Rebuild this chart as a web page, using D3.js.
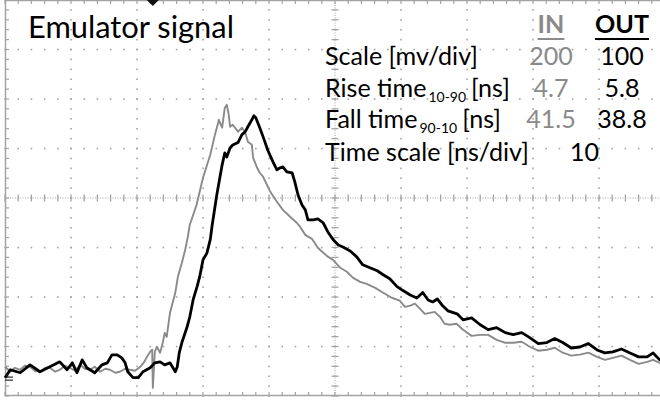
<!DOCTYPE html>
<html>
<head>
<meta charset="utf-8">
<script src="https://cdn.jsdelivr.net/npm/d3@7"></script>
<style>
  html, body { margin: 0; padding: 0; background: #fff; }
  svg { display: block; }
</style>
</head>
<body>
<script>
// scope settings
const timeScaleNsPerDiv = 10;
const channelNames = ["IN", "OUT"];
const scaleMvPerDiv = [200, 100];
const riseTimeNs = [4.7, 5.8];
const fallTimeNs = [41.5, 38.8];
const channelOffsetDiv = [-3.45, -3.45];
const triggerNs = 22.4;

// traces: [time ns, mV]
const inTrace = [
  [0.0, 8], [0.8, -12], [1.5, 4], [2.3, -4], [3.0, 12], [3.8, 8], [4.5, -8], [5.3, -12],
  [6.1, 4], [6.8, 4], [7.6, -12], [8.3, -4], [9.1, 12], [9.8, 4], [10.6, -8], [11.4, 16],
  [12.1, 0], [12.9, -4], [13.6, 8], [14.4, -12], [15.2, 0], [15.9, -4], [16.7, -16], [17.4, -12],
  [18.2, 0], [18.9, -4], [19.7, -8], [20.5, 8], [21.1, 28], [21.5, 48], [22.0, 69], [22.3, 77],
  [22.4, -77], [22.7, 69], [23.0, 89], [23.5, 65], [23.9, 105], [24.2, 145], [24.5, 129], [25.0, 226],
  [25.8, 307], [26.2, 372], [26.8, 428], [27.3, 481], [27.7, 533], [28.0, 582], [29.0, 660], [30.0, 772],
  [31.1, 865], [31.8, 945], [32.3, 994], [32.4, 1006], [32.9, 974], [33.3, 1054], [33.6, 1067], [33.9, 1026],
  [34.1, 978], [34.5, 986], [35.3, 958], [35.9, 974], [36.4, 954], [36.8, 917], [37.4, 905], [37.6, 852],
  [38.2, 812], [38.6, 792], [39.1, 776], [40.2, 715], [41.2, 675], [42.1, 642], [43.2, 614], [44.2, 590],
  [44.7, 574], [45.5, 541], [46.5, 525], [47.4, 489], [48.8, 455], [49.7, 440], [50.8, 408], [51.8, 392],
  [52.7, 368], [53.8, 351], [54.8, 343], [56.1, 327], [57.3, 307], [58.6, 287], [59.8, 275], [60.6, 250],
  [61.4, 255], [62.1, 263], [62.9, 242], [63.6, 222], [64.4, 226], [65.1, 230], [65.9, 210], [66.6, 182],
  [67.4, 178], [68.4, 182], [69.4, 158], [70.7, 133], [72.0, 137], [73.2, 137], [74.5, 117], [75.8, 105],
  [77.0, 105], [78.3, 109], [79.5, 89], [80.8, 73], [82.1, 77], [83.3, 85], [84.5, 65], [85.8, 53],
  [87.1, 57], [88.4, 65], [89.7, 48], [90.9, 36], [92.1, 44], [93.4, 53], [94.7, 36], [96.0, 20],
  [97.3, 28], [98.2, 36], [99.2, 24], [100, 22]
];

const outTrace = [
  [0.0, -18], [0.8, -2], [2.3, -8], [3.8, 8], [5.3, -6], [6.8, 4], [8.3, 14], [9.4, -2],
  [10.2, 12], [10.9, -8], [11.7, 18], [12.4, 2], [13.6, -8], [14.7, 8], [15.5, 12], [16.2, 28],
  [17.0, 28], [17.7, 22], [18.2, 12], [18.6, -6], [19.4, -18], [20.2, -18], [20.9, -6], [22.0, 2],
  [22.7, 12], [23.5, 14], [24.2, 8], [25.0, 12], [25.8, -6], [26.1, 4], [26.4, 32], [26.8, 53],
  [27.6, 85], [28.0, 105], [28.5, 139], [29.1, 166], [29.5, 186], [30.0, 220], [30.6, 234], [31.1, 261],
  [31.4, 291], [32.1, 352], [32.9, 412], [33.3, 436], [33.6, 428], [34.1, 446], [34.5, 452], [35.3, 457],
  [35.9, 473], [36.4, 479], [36.8, 489], [37.4, 503], [37.7, 511], [38.0, 507], [38.6, 487], [39.1, 469],
  [39.8, 442], [40.6, 418], [41.2, 402], [41.7, 406], [42.1, 408], [42.7, 398], [43.5, 396], [43.9, 378],
  [44.4, 351], [45.0, 331], [45.5, 321], [45.9, 301], [46.7, 301], [47.4, 303], [48.2, 295], [48.9, 277],
  [49.7, 261], [50.5, 250], [51.2, 246], [52.3, 238], [53.3, 226], [54.2, 210], [55.3, 204], [56.4, 198],
  [57.3, 190], [58.3, 182], [59.4, 166], [60.3, 158], [61.4, 149], [62.4, 143], [63.3, 154], [64.1, 139],
  [64.8, 135], [65.5, 141], [66.2, 129], [67.1, 117], [68.5, 111], [69.4, 99], [70.7, 103], [72.0, 89],
  [73.2, 79], [74.5, 83], [75.8, 73], [77.0, 69], [78.3, 73], [79.5, 63], [80.8, 51], [82.1, 53],
  [83.3, 61], [84.5, 53], [85.8, 42], [87.1, 44], [88.4, 51], [89.7, 38], [90.9, 32], [92.1, 34],
  [93.4, 40], [94.7, 32], [96.0, 24], [97.3, 24], [98.2, 32], [99.2, 18], [100, 20]
];

// table text: [label, subscript, unit]
const tableTitle = "Emulator signal";
const rowLabels = [
  ["Scale [mv/div]", "", ""],
  ["Rise time", "10-90", "[ns]"],
  ["Fall time", "90-10", "[ns]"],
  ["Time scale [ns/div]", "", ""]
];

const W = 660, H = 400;
const inColor = "#8a8a8a", outColor = "#000";
const gridColor = "#a3a3a3";

const svg = d3.select("body").append("svg")
  .attr("width", W).attr("height", H)
  .style("font-family", "Lato, 'Open Sans', sans-serif");

// 10 x 8 divisions, right edge runs past the picture
const x = d3.scaleLinear().domain([0, 10 * timeScaleNsPerDiv]).range([5, 665]);
const y = d3.scaleLinear().domain([-4, 4]).range([396, 0]);

const grid = svg.append("g");
const minorX = d3.range(0, 100.01, timeScaleNsPerDiv / 5);
const minorY = d3.range(-4, 4.01, 0.2);

// dotted major lines
const majorX = d3.range(1, 10).filter(k => k !== 5).map(k => k * timeScaleNsPerDiv);
const majorY = d3.range(-3, 4).filter(k => k !== 0);
const dots = [];
majorX.forEach(t => minorY.forEach(d => dots.push([x(t), y(d)])));
majorY.forEach(d => minorX.forEach(t => dots.push([x(t), y(d)])));
grid.selectAll("rect.dot").data(dots).join("rect")
  .attr("class", "dot")
  .attr("x", d => d[0] - 0.75).attr("y", d => d[1] - 0.75)
  .attr("width", 1.6).attr("height", 1.6)
  .attr("fill", gridColor);

// center cross
grid.append("line")
  .attr("x1", x(0)).attr("x2", x(100)).attr("y1", y(0)).attr("y2", y(0))
  .attr("stroke", gridColor).attr("stroke-dasharray", "1,1.5");
grid.append("line")
  .attr("x1", x(50)).attr("x2", x(50)).attr("y1", y(-4)).attr("y2", y(4))
  .attr("stroke", gridColor).attr("stroke-dasharray", "1,1.5");
grid.selectAll("line.cx").data(minorX).join("line")
  .attr("class", "cx")
  .attr("x1", d => x(d)).attr("x2", d => x(d))
  .attr("y1", y(0) - 3.5).attr("y2", y(0) + 3.5)
  .attr("stroke", gridColor).attr("stroke-width", 1.3);
grid.selectAll("line.cy").data(minorY).join("line")
  .attr("class", "cy")
  .attr("y1", d => y(d)).attr("y2", d => y(d))
  .attr("x1", x(50) - 3.5).attr("x2", x(50) + 3.5)
  .attr("stroke", gridColor).attr("stroke-width", 1.3);

// frame + border ticks
grid.append("path")
  .attr("d", `M${x(100)},${y(4) + 0.5}H${x(0) + 0.5}V${y(-4) - 0.5}H${x(100)}`)
  .attr("fill", "none").attr("stroke", gridColor).attr("stroke-width", 1.5);
grid.selectAll("line.bt").data(minorX).join("line")
  .attr("class", "bt")
  .attr("x1", d => x(d)).attr("x2", d => x(d))
  .attr("y1", y(-4)).attr("y2", y(-4) - 4)
  .attr("stroke", gridColor).attr("stroke-width", 1.2);
grid.selectAll("line.tt").data(minorX).join("line")
  .attr("class", "tt")
  .attr("x1", d => x(d)).attr("x2", d => x(d))
  .attr("y1", y(4)).attr("y2", y(4) + 4)
  .attr("stroke", gridColor).attr("stroke-width", 1.2);
grid.selectAll("line.lt").data(minorY).join("line")
  .attr("class", "lt")
  .attr("y1", d => y(d)).attr("y2", d => y(d))
  .attr("x1", x(0)).attr("x2", x(0) + 4)
  .attr("stroke", gridColor).attr("stroke-width", 1.2);

// trigger marker
svg.append("path")
  .attr("d", `M${x(triggerNs) - 7},-1L${x(triggerNs) + 7},-1L${x(triggerNs)},6Z`)
  .attr("fill", "#111");

// ground marker
svg.append("path")
  .attr("d", `M${x(0)},${y(-3.62)}h8M${x(0)},${y(-3.68)}h8`)
  .attr("stroke", "#333").attr("stroke-width", 1.2);

// traces
function traceLine(ch) {
  return d3.line()
    .x(d => x(d[0]))
    .y(d => y(channelOffsetDiv[ch] + d[1] / scaleMvPerDiv[ch]));
}
svg.append("path").datum(inTrace)
  .attr("d", traceLine(0))
  .attr("fill", "none").attr("stroke", inColor).attr("stroke-width", 1.9)
  .attr("stroke-linejoin", "round");
svg.append("path").datum(outTrace)
  .attr("d", traceLine(1))
  .attr("fill", "none").attr("stroke", outColor).attr("stroke-width", 2.8)
  .attr("stroke-linejoin", "round");

// text
function fitWidth(sel, target) {
  const fs = parseFloat(sel.attr("font-size"));
  const w = sel.node().getComputedTextLength();
  const nfs = fs * target / w;
  sel.attr("font-size", nfs);
  return nfs;
}

const title = svg.append("text")
  .attr("x", 28).attr("y", 38).attr("font-size", 28).attr("fill", "#000")
  .text(tableTitle);
fitWidth(title, 206);

const labelX = 325;
const rowY = [65, 97, 128, 161];
const colX = [551, 622];

// size the rows from the widest one
const probe = svg.append("text").attr("font-size", 24).text(rowLabels[3][0]);
const rowFs = fitWidth(probe, 204);
probe.remove();
const subFs = 14;

rowLabels.forEach((r, i) => {
  const t = svg.append("text")
    .attr("x", labelX).attr("y", rowY[i])
    .attr("font-size", rowFs).attr("fill", "#000")
    .text(r[0]);
  if (r[1]) {
    const subX = labelX + t.node().getComputedTextLength() + 2;
    const s = svg.append("text")
      .attr("x", subX).attr("y", rowY[i] + 5)
      .attr("font-size", subFs).attr("fill", "#000")
      .text(r[1]);
    svg.append("text")
      .attr("x", subX + s.node().getComputedTextLength() + 5).attr("y", rowY[i])
      .attr("font-size", rowFs).attr("fill", "#000")
      .text(r[2]);
  }
});

const colors = [inColor, outColor];
channelNames.forEach((name, c) => {
  const h = svg.append("text")
    .attr("x", colX[c]).attr("y", 33).attr("text-anchor", "middle")
    .attr("font-size", rowFs).attr("font-weight", "bold")
    .attr("fill", colors[c]).text(name);
  const w = h.node().getComputedTextLength();
  svg.append("line")
    .attr("x1", colX[c] - w / 2).attr("x2", colX[c] + w / 2)
    .attr("y1", 39).attr("y2", 39)
    .attr("stroke", colors[c]).attr("stroke-width", 2);
  [scaleMvPerDiv[c], riseTimeNs[c].toFixed(1), fallTimeNs[c].toFixed(1)].forEach((v, i) => {
    svg.append("text")
      .attr("x", colX[c]).attr("y", rowY[i]).attr("text-anchor", "middle")
      .attr("font-size", rowFs).attr("fill", colors[c])
      .text(v);
  });
});
svg.append("text")
  .attr("x", (colX[0] + colX[1]) / 2 - 2).attr("y", rowY[3]).attr("text-anchor", "middle")
  .attr("font-size", rowFs).attr("fill", "#000")
  .text(timeScaleNsPerDiv);
</script>
</body>
</html>
